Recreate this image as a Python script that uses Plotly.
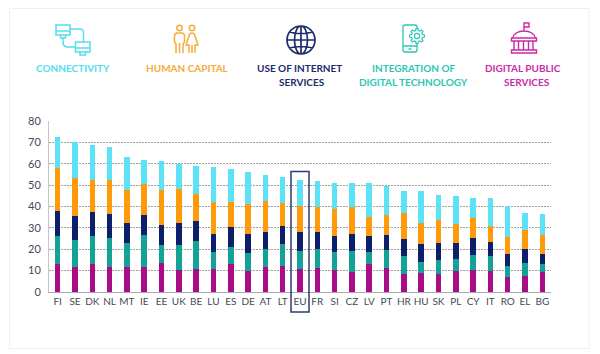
import math
import re
import plotly.graph_objects as go

countries = ["FI","SE","DK","NL","MT","IE","EE","UK","BE","LU","ES","DE","AT","LT","EU","FR","SI","CZ","LV","PT","HR","HU","SK","PL","CY","IT","RO","EL","BG"]
digital_public = [13,11.8,13,11.8,11.8,11.8,13.4,10.3,10.9,10.9,13,9.8,11.8,12.3,10.9,11.4,10.3,9.3,13,11.4,8.3,8.9,8.3,9.8,10.3,9.8,7.2,7.6,9.3]
integration = [13.3,12.5,13.3,13.4,10.9,15.1,8.4,11.5,12.9,7.8,8.2,8.4,8.4,10,8.3,8.8,8.4,9.9,5.7,8.4,8.4,5.1,6.8,5.8,6.8,6.9,4.9,6,3.8]
internet_use = [11.7,11.2,11.2,11.3,9.8,9.1,9.7,10.7,9.2,8.6,9.2,9.1,8.1,8.7,8.7,7.7,7.6,8.1,7.6,7.1,8.1,8.3,7.6,7.1,8.3,6.7,5.7,6.5,4.9]
human_capital = [19.8,17.9,15,16,15.3,14.4,16.3,15.9,12.8,14.9,11.8,14,14.5,10.6,12.3,11.8,12.3,12.4,8.7,9.1,12.2,10.2,10.8,9.2,9.2,7.6,8.1,8.9,8.9]
connectivity = [14.7,16.8,16.5,15.5,15.2,11.3,13.4,11.7,13.1,16.1,15.4,14.8,11.9,12.4,12.3,12.3,12.3,11.2,15.9,13.4,10.4,14.9,11.8,12.8,9.2,12.8,14.3,8,9.7]
series_names = ["Digital public services","Integration of digital technology","Use of internet services","Human capital","Connectivity"]
bar_colors = ["#A80C86","#14A196","#0B1F6B","#FF9A0A","#5BE2F7"]
y_ticks = [0,10,20,30,40,50,60,70,80]

W, H = 600, 354
CYAN, ORANGE, NAVY, TEAL, MAGENTA = "#55DCEF", "#F7AB3A", "#1D2C6B", "#2CC6B4", "#C92AA6"


def px(x, y):
    return f"{x / W:.5f},{1 - y / H:.5f}"


def path(d):
    """Convert a path written in page pixels to paper coordinates."""
    return re.sub(r"(-?[\d.]+)[ ,](-?[\d.]+)", lambda m: px(float(m[1]), float(m[2])), d)


def ellipse(cx, cy, rx, ry):
    k = 0.5523
    return (f"M{cx + rx} {cy} C{cx + rx} {cy + k * ry} {cx + k * rx} {cy + ry} {cx} {cy + ry} "
            f"C{cx - k * rx} {cy + ry} {cx - rx} {cy + k * ry} {cx - rx} {cy} "
            f"C{cx - rx} {cy - k * ry} {cx - k * rx} {cy - ry} {cx} {cy - ry} "
            f"C{cx + k * rx} {cy - ry} {cx + rx} {cy - k * ry} {cx + rx} {cy} Z ")


def rect(x0, y0, x1, y1):
    return f"M{x0} {y0} L{x1} {y0} L{x1} {y1} L{x0} {y1} Z "


def gear(cx, cy, r0, r1, n=8):
    pts = []
    for i in range(n):
        a = 2 * math.pi * i / n
        d = math.pi / n * 0.5
        for ang, r in ((a - d * 1.3, r0), (a - d * 0.7, r1), (a + d * 0.7, r1), (a + d * 1.3, r0)):
            pts.append(f"{cx + r * math.cos(ang):.2f} {cy + r * math.sin(ang):.2f}")
    return "M" + " L".join(pts) + " Z "


def icon(d, color, width=1.5):
    return dict(type="path", xref="paper", yref="paper", path=path(d),
                line=dict(color=color, width=width), fillcolor="rgba(0,0,0,0)", layer="above")


shapes = [
    dict(type="rect", xref="paper", yref="paper", x0=9.5 / W, x1=589 / W, y0=1 - 348.5 / H, y1=1 - 8.5 / H,
         line=dict(color="#EDEFF2", width=1), fillcolor="white", layer="below"),
    # EU highlight box
    dict(type="rect", xref="paper", yref="paper", x0=291 / W, x1=309 / W, y0=1 - 312 / H, y1=1 - 171.5 / H,
         line=dict(color="#2B3A78", width=1.5), layer="above"),
]

# Connectivity icon
shapes.append(icon(rect(56, 25, 70, 35) + "M56 31 L70 31 M60.5 35 L60.5 38 L65.5 38 L65.5 35 "
                   + rect(75.5, 42, 90, 52) + "M75.5 48 L90 48 M80 52 L80 55 L85.5 55 L85.5 52 "
                   + "M70 29 L80 29 C83 29 83.5 31 83.5 33 L83.5 42 "
                   + "M63 38 L63 42 C63 46 65 47 68 47 L75.5 47", CYAN, 1.5))
# Human capital icon
shapes.append(icon(ellipse(179.5, 28, 2.7, 2.7) + ellipse(192, 28, 2.7, 2.7)
                   + "M176 53 L176 44 L174.5 42 L174.5 36 C174.5 34 176 33 177.5 33 L181.5 33 C183 33 184.5 34 184.5 36 L184.5 42 L183 44 L183 53 "
                   + "M179.5 43 L179.5 53 "
                   + "M189 53 L189 45 L186 45 L189 36 C189.5 34 190.5 33 192 33 C193.5 33 194.5 34 195 36 L198 45 L195 45 L195 53 "
                   + "M192 45 L192 53", ORANGE, 1.5))
# Internet globe icon
shapes.append(icon(ellipse(301, 40, 14, 14) + ellipse(301, 40, 6.5, 14) + "M301 26 L301 54 M287 40 L315 40 "
                   + "M289.5 32 C296 34 306 34 312.5 32 M289.5 48 C296 46 306 46 312.5 48", NAVY, 1.7))
# Integration icon
shapes.append(icon("M417 29 L417 27 C417 26 416 25 415 25 L405 25 C404 25 403 26 403 27 L403 50 C403 51 404 52 405 52 L415 52 C416 52 417 51 417 50 L417 43 "
                   + "M403 46 L417 46 M408.5 49 L411.5 49", "#2CC6B4", 1.3))
shapes.append(icon(gear(417, 36, 5.6, 7.5) + ellipse(417, 36, 2.6, 2.6), "#2CC6B4", 1.2))
# Digital public services icon
shapes.append(icon("M524 31 L524 23 L529 23 L529 27 L524 27 "
                   + "M513 38 C513 34 518 31 524 31 C530 31 535 34 535 38 Z "
                   + rect(511.5, 38, 536.5, 41) + "M514 41 L514 50 M518.5 41 L518.5 50 M523.5 41 L523.5 50 M528.5 41 L528.5 50 M533 41 L533 50 "
                   + rect(511.5, 50, 536.5, 53), MAGENTA, 1.4))

headers = [
    ("CONNECTIVITY", 72.5, 68, CYAN),
    ("HUMAN CAPITAL", 187, 68, ORANGE),
    ("USE OF INTERNET", 299, 68, NAVY),
    ("SERVICES", 302, 81.5, NAVY),
    ("INTEGRATION OF", 413, 68, TEAL),
    ("DIGITAL TECHNOLOGY", 414, 81.5, TEAL),
    ("DIGITAL PUBLIC", 523, 68, MAGENTA),
    ("SERVICES", 527, 81.5, MAGENTA),
]
annotations = [
    dict(text=t, x=x / W, y=1 - y / H, xref="paper", yref="paper", showarrow=False, xanchor="center", yanchor="middle",
         font=dict(family="Lato", size=10, color=c, weight=700))
    for t, x, y, c in headers
]

fig = go.Figure()
for name, vals, col in zip(series_names, [digital_public, integration, internet_use, human_capital, connectivity], bar_colors):
    fig.add_bar(x=countries, y=vals, name=name, marker=dict(color=col, line=dict(width=0)))

fig.update_layout(
    width=W, height=H, autosize=False, barmode="stack", bargap=0.68, showlegend=False,
    margin=dict(l=0, r=0, t=0, b=0), paper_bgcolor="white", plot_bgcolor="rgba(0,0,0,0)",
    font=dict(family="Lato", color="#444A55", size=10),
    shapes=shapes, annotations=annotations,
    xaxis=dict(domain=[49 / W, 551 / W], type="category", tickmode="array", tickvals=countries, ticktext=countries,
               automargin=False, tickangle=0,
               showline=True, linecolor="#A9A9A9", linewidth=1, ticks="", showgrid=False, tickfont=dict(size=10)),
    yaxis=dict(domain=[1 - 292 / H, 1 - 121 / H], range=[0, 80], tickvals=y_ticks, showline=True, linecolor="#C4C4C4",
               automargin=False, ticklabelstandoff=5,
               linewidth=1, showgrid=True, gridcolor="#A0A0A0", griddash="2px,1px", gridwidth=1, zeroline=False,
               ticks="", tickfont=dict(size=11)),
)
fig.write_html("out.html", post_script="document.body.style.margin='0';", config={"displayModeBar": False})
